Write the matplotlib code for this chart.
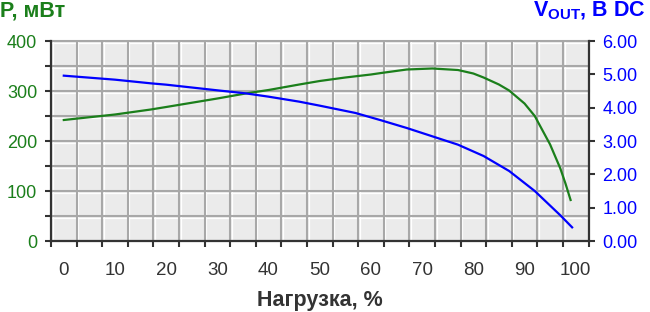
import numpy as np
import matplotlib
matplotlib.use("Agg")
import matplotlib.pyplot as plt
from matplotlib.transforms import ScaledTranslation

plt.rcParams['font.family'] = ['Liberation Sans', 'DejaVu Sans']
plt.rcParams['mathtext.fontset'] = 'custom'
plt.rcParams['mathtext.rm'] = 'Liberation Sans'
plt.rcParams['mathtext.bf'] = 'Liberation Sans:bold'

# Данные
load_p = [0, 10, 17, 20, 30, 35.5, 40, 46, 50, 55, 60, 62, 67, 72, 77, 80, 82, 85, 87,
          90, 92, 94, 95, 97, 98, 99]
power = [242, 253, 263, 268, 285, 295, 302, 313, 320, 327, 333, 336, 343, 345, 342, 335, 327,
         313, 301, 275, 250, 212, 193, 145, 115, 82]

load_v = [0, 10, 17, 20, 30, 35.5, 40, 46, 50, 57, 62, 67, 72, 77, 82, 87, 92, 97, 99.3]
vout = [4.96, 4.84, 4.73, 4.69, 4.52, 4.43, 4.33, 4.18, 4.06, 3.84, 3.62, 3.39, 3.14,
        2.89, 2.55, 2.10, 1.50, 0.77, 0.41]

x_labels = list(range(0, 101, 10))
x_grid = np.arange(-2.5, 103, 5)
p_ticks = list(range(0, 401, 50))
v_ticks = list(range(0, 7))

green = '#1b7f1b'
blue = '#0000ff'
dark = '#333333'

fig = plt.figure(figsize=(6.5, 3.12), dpi=100)
ax = fig.add_axes([51 / 650, 71 / 312, 537.5 / 650, 200 / 312])
ax.set_facecolor('#ebebeb')
ax.set_xlim(-2.5, 102.5)
ax.set_ylim(0, 400)

# Сетка: серая линия с белой подсветкой справа/снизу
off_x = ScaledTranslation(1.2 / 72, 0, fig.dpi_scale_trans)
off_y = ScaledTranslation(0, -1.2 / 72, fig.dpi_scale_trans)
for xv in x_grid:
    ax.plot([xv, xv], [0, 1], transform=ax.get_xaxis_transform() + off_x,
            color='white', lw=0.9, zorder=1)
    ax.plot([xv, xv], [0, 1], transform=ax.get_xaxis_transform(),
            color='#a8a8a8', lw=1.5, zorder=1.1)
for yv in p_ticks:
    ax.plot([0, 1], [yv, yv], transform=ax.get_yaxis_transform() + off_y,
            color='white', lw=0.9, zorder=1)
    ax.plot([0, 1], [yv, yv], transform=ax.get_yaxis_transform(),
            color='#a8a8a8', lw=1.5, zorder=1.1, clip_on=False)

ax.plot(load_p, power, color=green, lw=1.6, zorder=3)

ax2 = ax.twinx()
ax2.set_ylim(0, 6)
ax2.plot(load_v, vout, color=blue, lw=1.6, zorder=3)

# Оси
for a in (ax, ax2):
    for s in a.spines.values():
        s.set_visible(False)
ax.spines['left'].set_visible(True)
ax.spines['bottom'].set_visible(True)
ax2.spines['right'].set_visible(True)
for s in (ax.spines['left'], ax.spines['bottom'], ax2.spines['right']):
    s.set_color(dark)
    s.set_linewidth(1.6)

ax.set_xticks(x_grid)
ax.set_xticklabels([])
ax.set_xticks(x_labels, minor=True)
ax.set_xticklabels([str(v) for v in x_labels], minor=True)
ax.tick_params(axis='x', which='major', length=4.5, width=1.5, color=dark)
ax.tick_params(axis='x', which='minor', length=0, pad=15, labelsize=13.5, labelcolor=dark)

ax.set_yticks(p_ticks)
ax.set_yticklabels([str(v) if v % 100 == 0 else '' for v in p_ticks])
ax.tick_params(axis='y', length=4, width=1.5, color=dark, pad=6, labelsize=13,
               labelcolor=green)

ax2.set_yticks(v_ticks)
ax2.set_yticklabels(['%.2f' % v for v in v_ticks])
ax2.tick_params(axis='y', length=4, width=1.5, color=dark, pad=6, labelsize=13,
                labelcolor=blue)

ax.set_xlabel('Нагрузка, %', fontsize=15.5, fontweight='bold', color=dark, labelpad=8)

fig.text(0.0, 1 - 11 / 312, 'P, мВт', color=green, fontsize=15.5, fontweight='bold',
         ha='left', va='center')
fig.text(1 - 4 / 650, 1 - 11 / 312, r'V$_{\mathbf{OUT}}$, B DC', color=blue, fontsize=15.5,
         fontweight='bold', ha='right', va='center')

fig.savefig('out.png', dpi=100)
plt.close(fig)
